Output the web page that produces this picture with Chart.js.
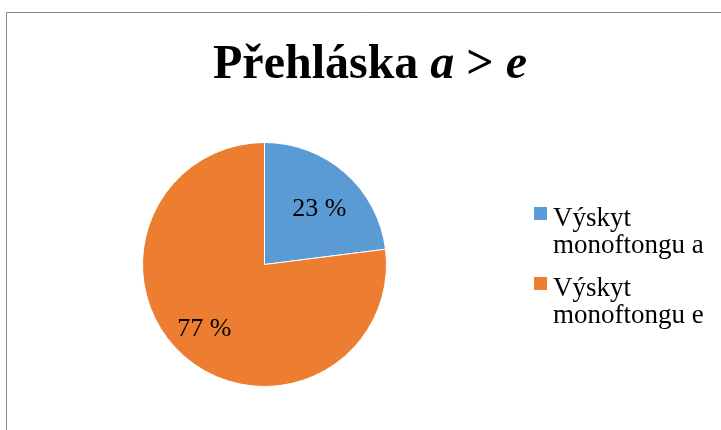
<!DOCTYPE html>
<html>
<head>
<meta charset="utf-8">
<script src="https://cdn.jsdelivr.net/npm/chart.js@4.4.0/dist/chart.umd.min.js"></script>
<style>
  html, body { margin: 0; padding: 0; background: #fff; }
  #wrap { width: 721px; height: 430px; position: relative; }
</style>
</head>
<body>
<div id="wrap"><canvas id="pieChart" width="721" height="430"></canvas></div>
<script>
  // data
  var categories = ['Výskyt monoftongu a', 'Výskyt monoftongu e'];
  var shares = [23, 77];
  var sliceColors = ['#5B9BD5', '#ED7D31'];
  var labelTexts = ['23 %', '77 %'];

  // frame + title (title has italic letters, so it is drawn by hand)
  var framePlugin = {
    id: 'frame',
    beforeDraw: function(chart) {
      var c = chart.ctx;
      c.save();
      c.fillStyle = '#fff';
      c.fillRect(0, 0, chart.width, chart.height);
      c.strokeStyle = '#868686';
      c.lineWidth = 1;
      c.beginPath();
      c.moveTo(6.5, 440);
      c.lineTo(6.5, 12.5);
      c.lineTo(730, 12.5);
      c.stroke();

      var parts = [
        ['Přehláska ', 'bold'],
        ['a', 'italic bold'],
        [' > ', 'bold'],
        ['e', 'italic bold']
      ];
      var size = 48;
      var total = 0;
      parts.forEach(function(p) {
        c.font = p[1] + ' ' + size + 'px "Liberation Serif", "Times New Roman", serif';
        total += c.measureText(p[0]).width;
      });
      var x = 370 - total / 2;
      c.fillStyle = '#000';
      c.textBaseline = 'alphabetic';
      parts.forEach(function(p) {
        c.font = p[1] + ' ' + size + 'px "Liberation Serif", "Times New Roman", serif';
        c.fillText(p[0], x, 78);
        x += c.measureText(p[0]).width;
      });
      c.restore();
    }
  };

  // value labels inside slices
  var sliceLabels = {
    id: 'sliceLabels',
    afterDatasetsDraw: function(chart) {
      var c = chart.ctx;
      var meta = chart.getDatasetMeta(0);
      c.save();
      c.font = '26px "Liberation Serif", "Times New Roman", serif';
      c.fillStyle = '#000';
      c.textAlign = 'center';
      c.textBaseline = 'middle';
      var fr = [0.63, 0.67];
      var off = [[4, 2], [-6, 3]];
      meta.data.forEach(function(arc, i) {
        var p = arc.getProps(['x', 'y', 'startAngle', 'endAngle', 'outerRadius'], true);
        var mid = (p.startAngle + p.endAngle) / 2;
        var r = p.outerRadius * fr[i];
        c.fillText(labelTexts[i], p.x + Math.cos(mid) * r + off[i][0], p.y + Math.sin(mid) * r + off[i][1]);
      });
      c.restore();
    }
  };

  // legend on the right, two lines per entry
  var sideLegend = {
    id: 'sideLegend',
    afterDraw: function(chart) {
      var c = chart.ctx;
      c.save();
      c.font = '27px "Liberation Serif", "Times New Roman", serif';
      c.textBaseline = 'alphabetic';
      var tops = [226, 296];
      categories.forEach(function(name, i) {
        var words = name.split(' ');
        var line1 = words[0];
        var line2 = words.slice(1).join(' ');
        c.fillStyle = sliceColors[i];
        c.fillRect(534, tops[i] - 19, 13, 13);
        c.fillStyle = '#000';
        c.fillText(line1, 553, tops[i]);
        c.fillText(line2, 553, tops[i] + 27);
      });
      c.restore();
    }
  };

  var ctx = document.getElementById('pieChart').getContext('2d');
  var myChart = new Chart(ctx, {
    type: 'pie',
    data: {
      labels: categories,
      datasets: [{
        data: shares,
        backgroundColor: sliceColors,
        borderColor: '#ffffff',
        borderWidth: 1
      }]
    },
    options: {
      responsive: false,
      animation: false,
      layout: {
        padding: { left: 142, right: 334, top: 142, bottom: 43 }
      },
      plugins: {
        legend: { display: false },
        title: { display: false },
        tooltip: { enabled: false }
      }
    },
    plugins: [framePlugin, sliceLabels, sideLegend]
  });
</script>
</body>
</html>
